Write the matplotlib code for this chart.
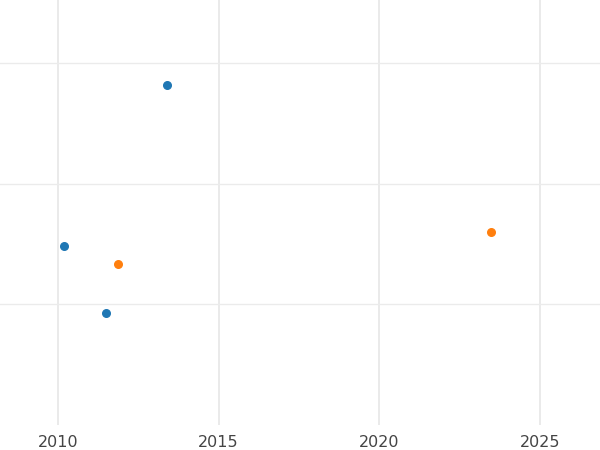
import matplotlib.pyplot as plt

blue_x = [2010.19, 2011.5, 2013.38]
blue_y = [1.48, 0.93, 2.82]
orange_x = [2011.88, 2023.47]
orange_y = [1.33, 1.60]
x_ticks = [2010, 2015, 2020, 2025]

fig = plt.figure(figsize=(6, 4.5), dpi=100)
ax = fig.add_axes([0, 25 / 450, 1, 425 / 450])
ax.scatter(blue_x, blue_y, s=30, color="#1f77b4", zorder=3)
ax.scatter(orange_x, orange_y, s=30, color="#ff7f0e", zorder=3)
ax.set_xlim(2008.195, 2026.87)
ax.set_ylim(0, 3.52)
ax.set_xticks(x_ticks)
ax.set_yticks([1, 2, 3])
ax.set_yticklabels([])
ax.tick_params(length=0, pad=7, labelsize=11.5, colors="#444444")
ax.grid(axis="x", color="#e6e6e6", linewidth=1.2)
ax.grid(axis="y", color="#ebebeb", linewidth=1.0)
for s in ax.spines.values():
    s.set_visible(False)
fig.savefig("out.png")
